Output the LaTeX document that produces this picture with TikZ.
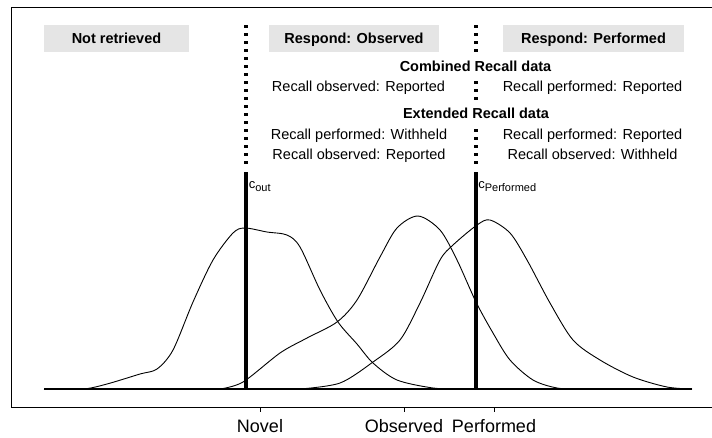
\documentclass[tikz,border=0pt]{standalone}
\usepackage{fontspec}
\setmainfont{Liberation Sans}
\usetikzlibrary{positioning}
\definecolor{boxgrey}{HTML}{E5E5E5}
\newcommand{\cutlbl}[1]{{\fontsize{13}{14}\selectfont c}{\fontsize{11}{13}\selectfont\raisebox{-3.5pt}{#1}}}

\begin{document}
\begin{tikzpicture}[x=1pt,y=-1pt,node distance=20pt,semithick]
\tikzstyle{lbl}=[font=\fontsize{14.5}{17}\selectfont,inner sep=0pt,text height=10.4pt,text depth=0pt]
\tikzstyle{band}=[lbl,font=\fontsize{14.5}{17}\selectfont\bfseries,fill=boxgrey,minimum height=27pt]
\tikzstyle{head}=[lbl,font=\fontsize{14.5}{17}\selectfont\bfseries,fill=white,inner sep=7pt]
\tikzstyle{tick}=[font=\fontsize{18}{21}\selectfont,anchor=base,inner sep=0pt]
\tikzstyle{dens}=[line width=0.9pt,smooth,tension=0.5]
\tikzstyle{cut}=[line width=3.5pt]
\tikzstyle{cutdots}=[line width=3.5pt,dash pattern=on 3.3pt off 4.7pt]
\useasboundingbox (0,0) rectangle (712,437);

% frame and axis
\draw[line width=0.8pt] (712,7) -- (11,7) -- (11,407) -- (712,407);
\draw[line width=2pt] (44,389) -- (692,389);
\foreach \x in {260,404,494} \draw[line width=0.8pt] (\x,407) -- (\x,412);
\node[tick] (novel) at (260,432) {Novel};
\node[tick] (obs) at (404,432) {Observed};
\node[tick] (perf) at (494,432) {Performed};

% densities
\draw[dens] plot coordinates {(44,389) (83,389) (107,384) (140,374) (157,369) (173,350) (193,302) (213,260) (233,233) (245,228) (267,232) (287,235) (300,247) (320,290) (338,322) (357,344) (373,363) (397,380) (433,388) (460,389)};
\draw[dens] plot coordinates {(220,389) (243,382) (280,353) (307,338) (337,322) (357,300) (380,257) (397,228) (418,216) (440,230) (457,260) (476,302) (493,333) (510,360) (533,380) (557,388) (580,389)};
\draw[dens] plot coordinates {(300,389) (340,383) (373,362) (400,340) (420,303) (440,260) (453,245) (477,225) (490,220) (510,233) (527,260) (550,303) (573,340) (600,360) (633,377) (667,387) (692,389)};

% cut points
\draw[cut] (246,172) -- (246,389);
\draw[cutdots] (246,25) -- (246,164);
\draw[cut] (476,172) -- (476,389);
\draw[cutdots] (476,25) -- (476,164);
\node[anchor=base west,inner sep=0pt] (cout) at (248.5,188) {\cutlbl{out}};
\node[anchor=base west,inner sep=0pt] (cperf) at (478,188) {\cutlbl{Performed}};

% response regions
\node[band,minimum width=145pt] (notret) at (116.5,38.5) {Not retrieved};
\node[band,minimum width=170pt] (respobs) at (354,38.5) {Respond: Observed};
\node[band,minimum width=181pt] (respperf) at (593.5,38.5) {Respond: Performed};

\node[head] (comb) at (475.5,65.8) {Combined Recall data};
\node[lbl] (obsrep) at (358.5,85.8) {Recall observed: Reported};
\node[lbl] (perfrep) at (592.5,85.8) {Recall performed: Reported};

\node[head] (ext) at (476,112.8) {Extended Recall data};
\node[lbl] (perfwh) at (359,133.8) {Recall performed: Withheld};
\node[lbl] (obsrep2) [below of=perfwh] {Recall observed: Reported};
\node[lbl] (perfrep2) at (592.5,133.8) {Recall performed: Reported};
\node[lbl] (obswh) [below of=perfrep2] {Recall observed: Withheld};

\end{tikzpicture}
\end{document}
